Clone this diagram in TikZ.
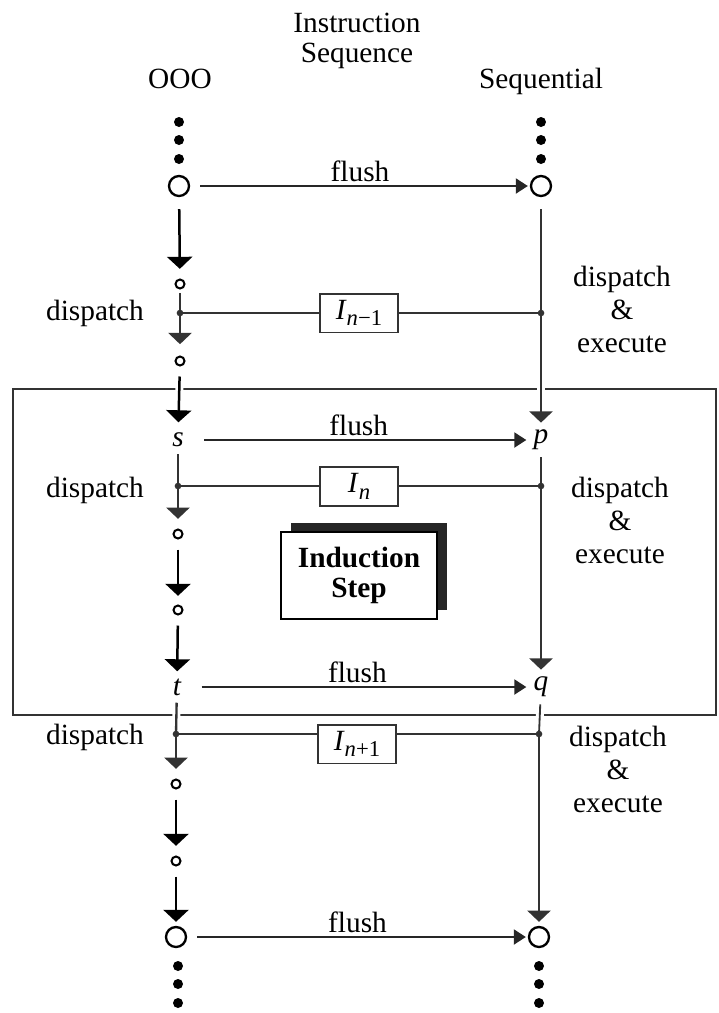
\documentclass[tikz,border=0pt]{standalone}
\usepackage{fontspec}
\setmainfont{Liberation Serif}
\usetikzlibrary{arrows.meta,shadows}

\tikzstyle{bigdot} = [circle, fill=black, inner sep=0pt, minimum size=3pt]
\tikzstyle{ring} = [draw, circle, line width=0.7pt, inner sep=0pt, minimum size=6pt]
\tikzstyle{smallring} = [draw, circle, line width=0.6pt, inner sep=0pt, minimum size=2.7pt]
\tikzstyle{letter} = [inner sep=2pt, font=\fontsize{8.8}{9.9}\selectfont\itshape]
\tikzstyle{instr} = [draw=black!80, fill=white, rectangle, line width=0.5pt,
    minimum height=11.6pt, minimum width=23.4pt, inner sep=1pt]
\tikzstyle{stepbox} = [draw, fill=white, rectangle, line width=0.5pt,
    minimum width=46.8pt, minimum height=26.1pt, align=center,
    font=\fontsize{8.8}{9}\selectfont\bfseries,
    drop shadow={shadow xshift=3pt, shadow yshift=2.7pt, fill=black!85, opacity=1}]
\tikzstyle{seqarrow} = [line width=0.75pt, -{Triangle[width=7.5pt,length=3.6pt]}]
\tikzstyle{grayarrow} = [line width=0.6pt, black!80, -{Triangle[width=7pt,length=3.4pt]}]
\tikzstyle{flusharrow} = [line width=0.6pt, black!85, -{Triangle[width=4.5pt,length=3.6pt]}]
\tikzstyle{wire} = [line width=0.55pt, black!80]
\tikzstyle{cross} = [preaction={draw=white, line width=2.4pt, -}]

\newcommand{\instrlabel}[1]{\textit{I}\raisebox{-0.5ex}{\fontsize{6.8}{7}\selectfont #1}}

\begin{document}
\begin{tikzpicture}[x=0.3pt, y=-0.3pt,
    every node/.style={font=\fontsize{8.8}{9.9}\selectfont}]
      \useasboundingbox (0,0) rectangle (718,1013);

      % headings
      \node [align=center, font=\fontsize{8.8}{9}\selectfont, name=title] at (357,41) {Instruction\\Sequence};
      \node [anchor=base, name=ooo] at (180,88) {OOO};
      \node [anchor=base, name=seq] at (541,88) {Sequential};

      % the two instruction streams
      \foreach \y in {122,140,159} {
        \node [bigdot, name=dl\y] at (179,\y) {};
        \node [bigdot, name=dr\y] at (541,\y) {};
      }
      \foreach \y in {966,984,1003} {
        \node [bigdot, name=dl\y] at (178,\y) {};
        \node [bigdot, name=dr\y] at (539,\y) {};
      }
      \node [ring, name=oTop] at (179,186) {};
      \node [ring, name=sTop] at (541,186) {};
      \node [smallring, name=r1] at (180,284) {};
      \node [smallring, name=r2] at (180,361) {};
      \node [letter, name=s] at (178,440) {s};
      \node [letter, name=p] at (541,440) {p};
      \node [smallring, name=r3] at (178,534) {};
      \node [smallring, name=r4] at (178,610) {};
      \node [letter, name=t] at (177,687) {t};
      \node [letter, name=q] at (541,687) {q};
      \node [smallring, name=r5] at (176,784) {};
      \node [smallring, name=r6] at (176,861) {};
      \node [ring, name=oBot] at (176,937) {};
      \node [ring, name=sBot] at (539,937) {};

      \coordinate (jL1) at (180,313);
      \coordinate (jR1) at (541,313);
      \coordinate (jL2) at (178,486);
      \coordinate (jR2) at (541,486);
      \coordinate (jL3) at (176,734);
      \coordinate (jR3) at (539,734);

      % induction step frame
      \draw [line width=0.6pt, black!80] (13,389) rectangle (716,715);

      % OOO side
      \draw [seqarrow, shorten <=3.6pt, shorten >=2.9pt] (oTop) -- (r1);
      \draw [wire, line width=0.7pt, shorten <=1pt] (r1) -- (jL1);
      \draw [grayarrow, shorten >=3.4pt] (jL1) -- (r2);
      \draw [seqarrow, cross, shorten <=3pt, shorten >=1pt] (r2) -- (s);
      \draw [wire, line width=0.7pt] (s) -- (jL2);
      \draw [grayarrow, shorten >=2.9pt] (jL2) -- (r3);
      \draw [seqarrow, shorten <=3pt, shorten >=2.6pt] (r3) -- (r4);
      \draw [seqarrow, shorten <=3pt] (r4) -- (t);
      \draw [wire, cross, line width=0.7pt] (t) -- (jL3);
      \draw [grayarrow, shorten >=2.9pt] (jL3) -- (r5);
      \draw [seqarrow, shorten <=3pt, shorten >=2.9pt] (r5) -- (r6);
      \draw [seqarrow, shorten <=3pt, shorten >=1.2pt] (r6) -- (oBot);

      % sequential side
      \draw [wire, shorten <=3.6pt] (sTop) -- (jR1);
      \draw [grayarrow, cross] (jR1) -- (p);
      \draw [wire] (p) -- (jR2);
      \draw [grayarrow] (jR2) -- (q);
      \draw [wire, cross] (q) -- (jR3);
      \draw [grayarrow, shorten >=1.2pt] (jR3) -- (sBot);

      % flush
      \draw [flusharrow, shorten <=3pt, shorten >=0.6pt] (oTop) -- node [above, inner sep=1pt, black] {flush} (sTop);
      \draw [flusharrow, shorten <=4pt] (s) -- node [above, inner sep=1pt, black] {flush} (p);
      \draw [flusharrow, shorten <=4pt] (t) -- node [above, inner sep=1pt, black] {flush} (q);
      \draw [flusharrow, shorten <=3pt, shorten >=0.6pt] (oBot) -- node [above, inner sep=1pt, black] {flush} (sBot);

      % instructions
      \draw [wire] (jL1) -- (jR1);
      \draw [wire] (jL2) -- (jR2);
      \draw [wire] (jL3) -- (jR3);
      \node [instr, name=I1] at (359,313) {\instrlabel{\textit{n}−1}};
      \node [instr, name=I2] at (359,486.5) {\instrlabel{\textit{n}}};
      \node [instr, name=I3] at (357,744) {\instrlabel{\textit{n}+1}};
      \foreach \j in {jL1,jR1,jL2,jR2,jL3,jR3}
        \fill [black!80] (\j) circle (1pt);

      \node [name=disp1] at (95,313) {dispatch};
      \node [name=disp2] at (95,490) {dispatch};
      \node [name=disp3] at (95,737) {dispatch};
      \node [align=center, name=exec1] at (622,309) {dispatch\\\&\\execute};
      \node [align=center, name=exec2] at (620,520) {dispatch\\\&\\execute};
      \node [align=center, name=exec3] at (618,769) {dispatch\\\&\\execute};

      \node [stepbox, name=induct] at (359,575.5) {Induction\\Step};
    \end{tikzpicture}
\end{document}
